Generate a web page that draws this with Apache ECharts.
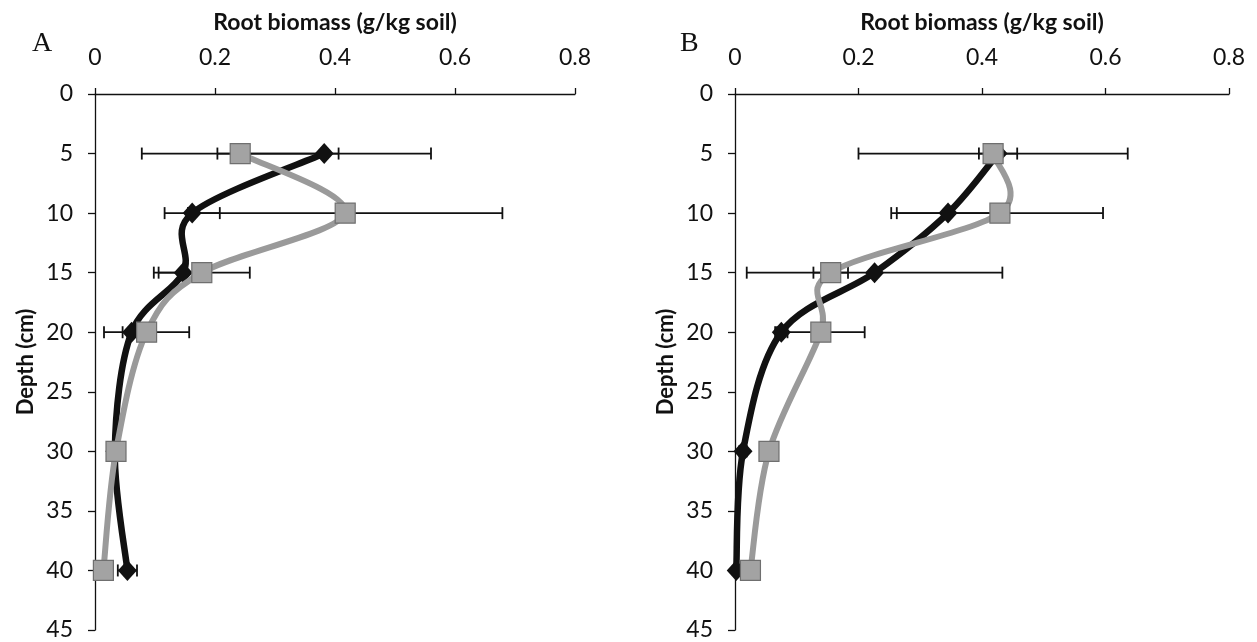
<!DOCTYPE html>
<html>
<head>
<meta charset="utf-8">
<title>Root biomass by depth</title>
<script src="https://cdn.jsdelivr.net/npm/echarts@6/dist/echarts.min.js"></script>
<style>
  html, body { margin: 0; padding: 0; background: #ffffff; }
  #chart { width: 1257px; height: 642px; }
</style>
</head>
<body>
<div id="chart"></div>
<script>
// Sampling depths (cm)
const depths = [5, 10, 15, 20, 30, 40];
const xTicks = [0, 0.2, 0.4, 0.6, 0.8];
const yTicks = [0, 5, 10, 15, 20, 25, 30, 35, 40, 45];

// Panel A: root biomass (g/kg soil) and error half-widths
const aDiamond = [0.382, 0.162, 0.147, 0.061, 0.033, 0.054];
const aDiamondErr = [0.178, 0.046, 0.041, 0.015, 0.008, 0.016];
const aSquare = [0.242, 0.417, 0.178, 0.086, 0.035, 0.014];
const aSquareErr = [0.164, 0.262, 0.080, 0.071, 0.008, 0.005];

// Panel B
const bDiamond = [0.426, 0.345, 0.226, 0.075, 0.013, 0.002];
const bDiamondErr = [0.031, 0.092, 0.207, 0.010, 0.006, 0.002];
const bSquare = [0.418, 0.429, 0.155, 0.139, 0.055, 0.025];
const bSquareErr = [0.218, 0.167, 0.028, 0.071, 0.006, 0.004];

const FONT = 'Lato';
const BLACK = '#111111';
const GREY_LINE = '#9a9a9a';
const GREY_FILL = '#a3a3a3';

const pairs = (vals) => vals.map((v, i) => [v, depths[i]]);
const errPairs = (vals, errs) => vals.map((v, i) => [v, depths[i], errs[i]]);

// One row per curve segment: previous point, start, end, next point
function segments(vals) {
  const n = vals.length;
  const rows = [];
  for (let i = 0; i < n - 1; i++) {
    const p = Math.max(i - 1, 0), q = Math.min(i + 2, n - 1);
    rows.push([vals[p], depths[p], vals[i], depths[i], vals[i + 1], depths[i + 1], vals[q], depths[q]]);
  }
  return rows;
}

function xAxisFor(gridIndex) {
  return {
    gridIndex, type: 'value', position: 'top', min: 0, max: 0.8, interval: 0.2,
    name: 'Root biomass (g/kg soil)', nameLocation: 'middle', nameGap: 60,
    nameTextStyle: { fontFamily: FONT, fontWeight: 'bold', fontSize: 23, color: BLACK },
    axisLine: { show: true, onZero: false, lineStyle: { color: BLACK, width: 1.3 } },
    axisTick: { show: true, inside: false, length: 6, lineStyle: { color: BLACK, width: 1.3 } },
    axisLabel: { fontFamily: FONT, fontSize: 23, color: BLACK, margin: 25,
      formatter: v => xTicks.includes(+v.toFixed(1)) ? String(+v.toFixed(1)) : '' },
    splitLine: { show: false }
  };
}

function yAxisFor(gridIndex) {
  return {
    gridIndex, type: 'value', inverse: true, min: 0, max: 45, interval: 5,
    name: 'Depth (cm)', nameLocation: 'middle', nameGap: 58, nameRotate: 90,
    nameTextStyle: { fontFamily: FONT, fontWeight: 'bold', fontSize: 22, color: BLACK },
    axisLine: { show: true, onZero: false, lineStyle: { color: BLACK, width: 1.3 } },
    axisTick: { show: true, inside: false, length: 7, lineStyle: { color: BLACK, width: 1.3 } },
    axisLabel: { fontFamily: FONT, fontSize: 23, color: BLACK, margin: 22,
      formatter: v => yTicks.includes(v) ? String(v) : '' },
    splitLine: { show: false }
  };
}

// Horizontal error bar with end caps
function errorBar(params, api) {
  const x = api.value(0), y = api.value(1), e = api.value(2);
  const p1 = api.coord([x - e, y]);
  const p2 = api.coord([x + e, y]);
  const cap = 6;
  const style = { stroke: BLACK, lineWidth: 1.8 };
  return {
    type: 'group',
    children: [
      { type: 'line', shape: { x1: p1[0], y1: p1[1], x2: p2[0], y2: p2[1] }, style },
      { type: 'line', shape: { x1: p1[0], y1: p1[1] - cap, x2: p1[0], y2: p1[1] + cap }, style },
      { type: 'line', shape: { x1: p2[0], y1: p2[1] - cap, x2: p2[0], y2: p2[1] + cap }, style }
    ]
  };
}

// Cardinal-spline segment (Catmull-Rom, 1/6 tangent) between two points
function curveRenderer(color, width) {
  return function (params, api) {
    const p0 = api.coord([api.value(0), api.value(1)]);
    const p1 = api.coord([api.value(2), api.value(3)]);
    const p2 = api.coord([api.value(4), api.value(5)]);
    const p3 = api.coord([api.value(6), api.value(7)]);
    const k = 1 / 6;
    return {
      type: 'bezierCurve',
      shape: {
        x1: p1[0], y1: p1[1], x2: p2[0], y2: p2[1],
        cpx1: p1[0] + (p2[0] - p0[0]) * k, cpy1: p1[1] + (p2[1] - p0[1]) * k,
        cpx2: p2[0] - (p3[0] - p1[0]) * k, cpy2: p2[1] - (p3[1] - p1[1]) * k
      },
      style: { stroke: color, lineWidth: width, fill: null, lineCap: 'round' }
    };
  };
}

function panelSeries(idx, diamond, diamondErr, square, squareErr) {
  const common = { xAxisIndex: idx, yAxisIndex: idx, silent: true };
  return [
    { ...common, type: 'custom', renderItem: errorBar,
      data: errPairs(diamond, diamondErr), encode: { x: 0, y: 1 }, z: 1 },
    { ...common, type: 'custom', renderItem: errorBar,
      data: errPairs(square, squareErr), encode: { x: 0, y: 1 }, z: 1 },
    { ...common, type: 'custom', renderItem: curveRenderer(BLACK, 6.5),
      data: segments(diamond), encode: { x: [0, 2, 4, 6], y: [1, 3, 5, 7] }, z: 2 },
    { ...common, type: 'scatter', data: pairs(diamond),
      symbol: 'diamond', symbolSize: [19, 21],
      itemStyle: { color: BLACK, opacity: 1 }, z: 3 },
    { ...common, type: 'custom', renderItem: curveRenderer(GREY_LINE, 6),
      data: segments(square), encode: { x: [0, 2, 4, 6], y: [1, 3, 5, 7] }, z: 4 },
    { ...common, type: 'scatter', data: pairs(square),
      symbol: 'rect', symbolSize: 20,
      itemStyle: { color: GREY_FILL, borderColor: '#6f6f6f', borderWidth: 1.2, opacity: 1 }, z: 5 }
  ];
}

const chart = echarts.init(document.getElementById('chart'), null, { renderer: 'canvas' });
chart.setOption({
  backgroundColor: '#ffffff',
  animation: false,
  grid: [
    { left: 95, top: 94, width: 480, height: 536 },
    { left: 735, top: 94, width: 494, height: 536 }
  ],
  xAxis: [xAxisFor(0), xAxisFor(1)],
  yAxis: [yAxisFor(0), yAxisFor(1)],
  graphic: [
    { type: 'text', left: 32, top: 30,
      style: { text: 'A', font: '28px "Liberation Serif", "DejaVu Serif", serif', fill: BLACK } },
    { type: 'text', left: 680, top: 30,
      style: { text: 'B', font: '28px "Liberation Serif", "DejaVu Serif", serif', fill: BLACK } }
  ],
  series: [
    ...panelSeries(0, aDiamond, aDiamondErr, aSquare, aSquareErr),
    ...panelSeries(1, bDiamond, bDiamondErr, bSquare, bSquareErr)
  ]
});
</script>
</body>
</html>
